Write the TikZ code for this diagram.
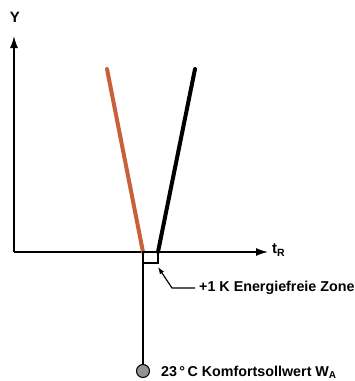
\documentclass[tikz,border=0pt]{standalone}
\usepackage{fontspec}
\setmainfont{Liberation Sans}
\usetikzlibrary{arrows.meta}
\definecolor{orangeline}{RGB}{200,96,58}
\tikzset{
  axis/.style={line width=1.4pt,-{Latex[length=12pt,width=8pt]}},
  thick line/.style={line width=4pt,line cap=round},
  lbl/.style={font=\bfseries\fontsize{14.3}{16}\selectfont,inner sep=0pt},
  thin/.style={line width=1.2pt}
}
\begin{document}
\begin{tikzpicture}[x=1pt,y=-1pt]
\useasboundingbox (0,0) rectangle (355,381);
\coordinate (O) at (14,252);
\coordinate (Ytip) at (14,36);
\coordinate (Xtip) at (268,252);
\draw[axis] (O) -- (Ytip);
\draw[axis] (O) -- (Xtip);
\node[lbl,font=\bfseries\fontsize{15}{16}\selectfont] (ylab) at (15,17) {Y};
\node[lbl,font=\bfseries\fontsize{15}{16}\selectfont,anchor=west] (xlab) at (272,250) {t\textsubscript{R}};
\coordinate (ob) at (143,252);
\coordinate (ot) at (107,69);
\coordinate (bb) at (158,252);
\coordinate (bt) at (195,69);
\draw[thick line,orangeline] (ot) -- (ob);
\draw[thick line,black] (bt) -- (bb);
\draw[thin] (143,252) rectangle (158,263);
\node[circle,draw,fill=gray!85,line width=1pt,minimum size=13pt,inner sep=0pt] (dot) at (143,371) {};
\draw[thin] (ob) -- (dot.north);
\node[lbl,anchor=west] (zone) at (199,288) {+1 K Energiefreie Zone};
\coordinate (lineend) at (195,288);
\coordinate (bend) at (172,288);
\draw[thin,-{Latex[length=7pt,width=5pt]}] (lineend) -- (bend) -- (158,267);
\node[lbl,anchor=west] (komf) at (161,372) {23\,°\,C Komfortsollwert W\textsubscript{A}};
\end{tikzpicture}
\end{document}
